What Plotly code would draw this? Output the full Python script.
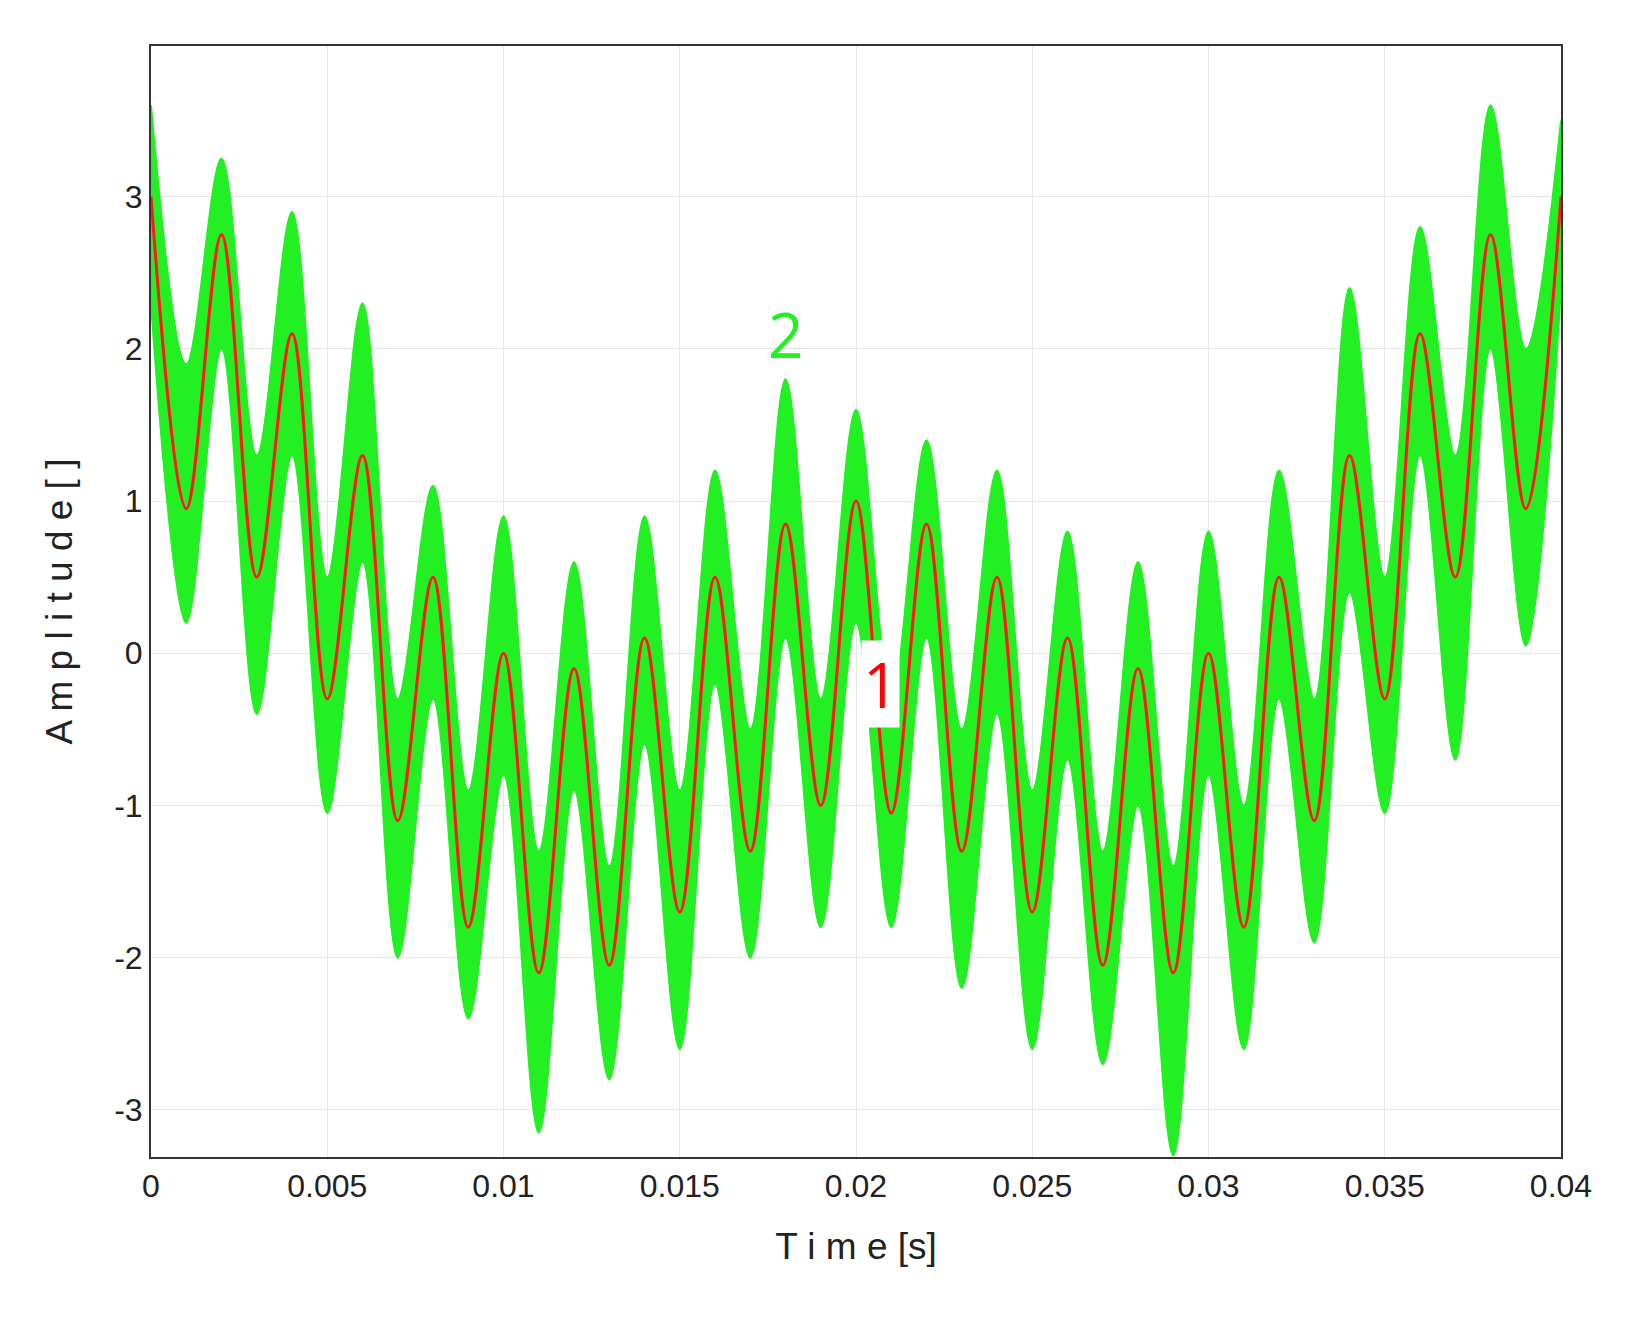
import plotly.graph_objects as go

# time of each extremum [s]
t = [i / 1000 for i in range(41)]

# red clean signal at extrema
clean = [3, 0.95, 2.75, 0.5, 2.1, -0.3, 1.3, -1.1, 0.5, -1.8, 0, -2.1, -0.1, -2.05, 0.1,
         -1.7, 0.5, -1.3, 0.85, -1.0, 1.0, -1.05, 0.85, -1.3, 0.5, -1.7, 0.1, -2.05, -0.1,
         -2.1, 0, -1.8, 0.5, -1.1, 1.3, -0.3, 2.1, 0.5, 2.75, 0.95, 3]

# green noisy signal envelope
noisy_hi = [3.6, 1.9, 3.25, 1.3, 2.9, 0.5, 2.3, -0.3, 1.1, -0.9, 0.9, -1.3, 0.6, -1.4, 0.9,
            -0.9, 1.2, -0.5, 1.8, -0.3, 1.6, -0.3, 1.4, -0.5, 1.2, -0.9, 0.8, -1.3, 0.6,
            -1.4, 0.8, -1.0, 1.2, -0.3, 2.4, 0.5, 2.8, 1.3, 3.6, 2.0, 3.5]
noisy_lo = [2.3, 0.2, 2.0, -0.4, 1.3, -1.05, 0.6, -2.0, -0.3, -2.4, -0.8, -3.15, -0.9, -2.8,
            -0.6, -2.6, -0.2, -2.0, 0.1, -1.8, 0.2, -1.8, 0.1, -2.2, -0.4, -2.6, -0.7, -2.7,
            -1.0, -3.3, -0.8, -2.6, -0.3, -1.9, 0.4, -1.05, 1.3, -0.7, 2.0, 0.05, 2.4]

x_ticks = [0, 0.005, 0.01, 0.015, 0.02, 0.025, 0.03, 0.035, 0.04]
x_labels = ["0", "0.005", "0.01", "0.015", "0.02", "0.025", "0.03", "0.035", "0.04"]
y_ticks = [-3, -2, -1, 0, 1, 2, 3]
y_labels = ["-3", "-2", "-1", "0", "1", "2", "3"]

green = "#22f022"
fig = go.Figure()
fig.add_trace(go.Scatter(x=t, y=noisy_lo, mode="lines", line=dict(color=green, width=2, shape="spline"),
                         showlegend=False))
fig.add_trace(go.Scatter(x=t, y=noisy_hi, mode="lines", line=dict(color=green, width=2, shape="spline"),
                         fill="tonexty", fillcolor=green, showlegend=False))
fig.add_trace(go.Scatter(x=t, y=clean, mode="lines", line=dict(color="#ff1a1a", width=3, shape="spline"),
                         showlegend=False))

fig.add_annotation(x=0.018, y=2.1, text="2", showarrow=False, font=dict(size=62, color=green))
fig.add_annotation(x=0.0207, y=-0.2, text="1", showarrow=False, bgcolor="white",
                   font=dict(size=62, color="red"))

axis_font = dict(family="Liberation Sans, Arial", size=32, color="#222")
title_font = dict(family="Liberation Sans, Arial", size=37, color="#222")
fig.update_xaxes(range=[0, 0.04], tickvals=x_ticks, ticktext=x_labels,
                 tickfont=axis_font, showgrid=True, gridcolor="#e6e6e6", zeroline=False,
                 showline=True, linecolor="#333", linewidth=2, mirror=True, ticks="",
                 title=dict(text="T i m e [s]", font=title_font, standoff=30))
fig.update_yaxes(range=[-3.31, 3.99], tickvals=y_ticks, ticktext=y_labels,
                 tickfont=axis_font, showgrid=True, gridcolor="#e6e6e6", zeroline=False,
                 showline=True, linecolor="#333", linewidth=2, mirror=True, ticks="",
                 title=dict(text="A m p l i t u d e [ ]", font=title_font, standoff=30))
fig.update_layout(width=1641, height=1327, plot_bgcolor="white", paper_bgcolor="white",
                  margin=dict(l=143, r=88, t=38, b=178))
fig.write_html("out.html")
